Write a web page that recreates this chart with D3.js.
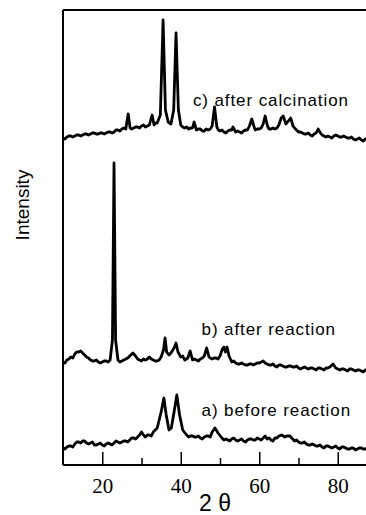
<!DOCTYPE html>
<html>
<head>
<meta charset="utf-8">
<script src="https://cdn.jsdelivr.net/npm/d3@7"></script>
<style>
  html, body { margin: 0; padding: 0; background: #fff; }
  svg { display: block; }
</style>
</head>
<body>
<div id="chart"></div>
<script>
// [2theta, intensity] (a.u., stacking offsets included)
const beforeReaction = [[10,17],[10.5,16],[11,18],[11.5,19],[12,19],[12.5,18],[13,21],[13.5,23],[14,23],[14.5,22],[15,24],[15.5,24],[16,22],[16.5,21],[17,22],[17.5,23],[18,20],[18.5,20],[19,21],[19.5,22],[20,20],[20.5,19],[21,21],[21.5,22],[22,21],[22.5,20],[23,22],[23.5,24],[24,23],[24.5,22],[25,23],[25.5,24],[26,24],[26.5,23],[27,25],[27.5,27],[28,27],[28.5,26],[29,28],[29.5,30],[30,33],[30.5,30],[31,28],[31.5,30],[32,30],[32.5,29],[33,33],[33.5,35],[34,37],[35,53],[35.7,67],[36.3,50],[37,35],[37.6,37],[38.3,53],[39,70],[39.7,50],[40.5,35],[41.5,30],[42,28],[42.5,29],[43,29],[43.5,28],[44,28],[44.5,29],[45,27],[45.5,26],[46,28],[46.5,29],[47,29],[47.5,28],[48,33],[48.7,37],[49.5,32],[50.5,27],[51,25],[51.5,26],[52,25],[52.5,24],[53,26],[53.5,27],[54,25],[54.5,24],[55,25],[55.5,26],[56,24],[56.5,23],[57,25],[57.5,26],[58,26],[58.5,25],[59,25],[59.5,27],[60,26],[60.5,25],[61,27],[61.5,29],[62,26],[62.5,27],[63,25],[63.5,24],[64,27],[64.5,27],[65,29],[65.7,30],[66.5,28],[67,29],[67.8,29],[68.5,26],[69,24],[69.5,25],[70,23],[70.5,22],[71,22],[71.5,23],[72,21],[72.5,20],[73,20],[73.5,21],[74,20],[74.5,19],[75,19],[75.5,20],[76,18],[76.5,17],[77,19],[77.5,19],[78,18],[78.5,17],[79,18],[79.5,19],[80,17],[80.5,16],[81,18],[81.5,18],[82,17],[82.5,16],[83,16],[83.5,17],[84,17],[84.5,15],[85,16],[85.5,17],[86,17],[86.5,16],[87,16],[87.5,17],[88,16],[88.5,15],[89,15],[89.5,16],[90,16]];

const afterReaction = [[10,103],[10.5,102],[11,105],[11.5,106],[12,108],[12.5,107],[13,111],[13.5,113],[14,113],[14.5,114],[15,112],[15.5,110],[16,108],[16.5,107],[17,105],[17.5,104],[18,104],[18.5,105],[19,103],[19.5,102],[20,103],[20.5,104],[21,104],[21.5,103],[22,105],[22.6,125],[23,302],[23.4,125],[24,105],[24.5,103],[25,104],[25.5,105],[26,106],[26.5,107],[27,109],[27.8,112],[28.5,109],[29,106],[29.5,105],[30,104],[30.5,106],[31,105],[31.5,106],[32,108],[32.5,106],[33,105],[33.5,104],[34,104],[34.5,105],[35,108],[35.6,115],[36,127],[36.4,113],[37,110],[37.5,112],[38.3,117],[38.8,122],[39.3,113],[40,108],[40.5,109],[41,105],[41.8,107],[42.4,114],[43,105],[43.5,106],[44,105],[44.5,104],[45,106],[45.5,107],[46,109],[46.6,117],[47.2,108],[47.5,107],[48,106],[48.5,107],[49,107],[49.5,106],[50,109],[50.6,116],[51,118],[51.4,113],[51.8,118],[52.3,109],[53,103],[53.5,104],[54,102],[54.5,101],[55,101],[55.5,102],[56,101],[56.5,100],[57,100],[57.5,101],[58,101],[58.5,100],[59,101],[59.5,102],[60,102],[60.5,103],[61,104],[61.5,102],[62,101],[62.5,100],[63,100],[63.5,101],[64,99],[64.5,98],[65,100],[65.5,100],[66,99],[66.5,98],[67,98],[67.5,99],[68,99],[68.5,98],[69,98],[69.5,99],[70,97],[70.5,96],[71,97],[71.5,98],[72,97],[72.5,96],[73,97],[73.5,97],[74,96],[74.5,95],[75,97],[75.5,97],[76,96],[76.5,95],[77,97],[77.5,97],[78,98],[78.8,101],[79.5,97],[80,96],[80.5,95],[81,96],[81.5,96],[82,95],[82.5,94],[83,96],[83.5,96],[84,95],[84.5,94],[85,95],[85.5,95],[86,94],[86.5,93],[87,95],[87.5,95],[88,94],[88.5,93],[89,95],[89.5,95],[90,94]];

const afterCalcination = [[10,327],[10.5,326],[11,328],[11.5,329],[12,329],[12.5,328],[13,329],[13.5,330],[14,330],[14.5,329],[15,330],[15.5,331],[16,331],[16.5,330],[17,331],[17.5,332],[18,332],[18.5,331],[19,331],[19.5,332],[20,332],[20.5,331],[21,332],[21.5,333],[22,333],[22.5,332],[23,333],[23.5,335],[24,335],[24.5,334],[25,336],[25.5,337],[26,336],[26.6,351],[27.1,337],[27.5,336],[28,337],[28.5,338],[29,338],[29.5,337],[30,339],[30.5,340],[31,338],[31.5,339],[32,340],[32.7,350],[33.2,340],[33.6,342],[34,342],[34.8,350],[35.5,445],[36.1,355],[36.8,343],[37.5,341],[38.2,355],[38.8,432],[39.4,355],[40,340],[40.5,338],[41,337],[41.5,338],[42,336],[42.5,337],[43,337],[43.4,343],[44,335],[44.5,336],[45,336],[45.5,334],[46,334],[46.5,336],[47,335],[47.5,336],[48,339],[48.6,358],[49.2,338],[49.6,335],[50,334],[50.5,335],[51,333],[51.5,332],[52,334],[52.5,335],[53,335],[53.3,338],[54,333],[54.5,334],[55,333],[55.5,332],[56,334],[56.5,335],[57,335],[57.5,339],[58.1,346],[58.7,338],[59,335],[59.5,336],[60,336],[60.5,337],[61,341],[61.5,349],[62.1,339],[62.5,336],[63,336],[63.5,337],[64,336],[64.5,337],[65,340],[65.6,347],[66.1,349],[66.8,341],[67.4,344],[68,347],[68.6,339],[69,337],[69.5,335],[70,333],[70.5,333],[71,332],[71.5,331],[72,331],[72.5,332],[73,330],[73.5,329],[74,331],[74.5,332],[75,336],[75.6,332],[76,330],[76.5,329],[77,328],[77.5,329],[78,328],[78.5,327],[79,329],[79.5,330],[80,329],[80.5,328],[81,328],[81.5,329],[82,328],[82.5,327],[83,327],[83.5,328],[84,326],[84.5,325],[85,326],[85.5,327],[86,325],[86.5,324],[87,326],[87.5,326],[88,325],[88.5,324],[89,325],[89.5,325],[90,324]];

const seriesLabels = ['a) before reaction', 'b) after reaction', 'c) after calcination'];
const labelTheta = [45.3, 45.3, 43.1];
const labelIntensity = [49, 130, 359];

const majorTicks = [20, 40, 60, 80];
const minorTicks = [30, 50, 70];

const W = 366, H = 515;
const margin = { top: 10, left: 63, bottom: 50 };
const x = d3.scaleLinear().domain([10, 90]).range([margin.left, margin.left + 314]);
const y = d3.scaleLinear().domain([0, 455]).range([H - margin.bottom, margin.top]);

const svg = d3.select('#chart').append('svg')
    .attr('width', W)
    .attr('height', H);

const line = d3.line()
    .x(d => x(d[0]))
    .y(d => y(d[1]));

[beforeReaction, afterReaction, afterCalcination].forEach(s => {
    svg.append('path')
        .datum(s)
        .attr('fill', 'none')
        .attr('stroke', '#000')
        .attr('stroke-width', 2.8)
        .attr('stroke-linejoin', 'round')
        .attr('d', line);
});

seriesLabels.forEach((txt, i) => {
    svg.append('text')
        .attr('x', x(labelTheta[i]))
        .attr('y', y(labelIntensity[i]))
        .attr('font-family', 'Liberation Sans, Arial, sans-serif')
        .attr('font-size', 17)
        .attr('letter-spacing', 0.9)
        .text(txt);
});

// frame: left and top
svg.append('line')
    .attr('x1', margin.left).attr('x2', margin.left)
    .attr('y1', y(455)).attr('y2', y(0))
    .attr('stroke', '#000').attr('stroke-width', 2);
svg.append('line')
    .attr('x1', margin.left).attr('x2', W)
    .attr('y1', y(455)).attr('y2', y(455))
    .attr('stroke', '#000').attr('stroke-width', 2);

// bottom axis, ticks pointing in
const xAxis = svg.append('g')
    .attr('transform', `translate(0,${y(0)})`)
    .call(d3.axisBottom(x).tickValues(majorTicks).tickSize(-13).tickPadding(13));
xAxis.select('.domain').attr('stroke-width', 2).attr('d', `M${margin.left},0H${W + 20}`);
xAxis.selectAll('.tick line').attr('stroke-width', 1.5);
xAxis.selectAll('text')
    .attr('font-family', 'Liberation Serif, Times New Roman, serif')
    .attr('font-size', 21)
    .attr('fill', '#000');

const xMinor = svg.append('g')
    .attr('transform', `translate(0,${y(0)})`)
    .call(d3.axisBottom(x).tickValues(minorTicks).tickSize(-7).tickFormat(''));
xMinor.select('.domain').remove();
xMinor.selectAll('.tick line').attr('stroke-width', 1.5);

svg.append('text')
    .attr('x', 215)
    .attr('y', 511)
    .attr('text-anchor', 'middle')
    .attr('font-family', 'Liberation Sans, Arial, sans-serif')
    .attr('font-size', 23)
    .text('2 θ');

svg.append('text')
    .attr('transform', 'translate(29,205) rotate(-90)')
    .attr('text-anchor', 'middle')
    .attr('font-family', 'Liberation Sans, Arial, sans-serif')
    .attr('font-size', 19)
    .text('Intensity');
</script>
</body>
</html>
